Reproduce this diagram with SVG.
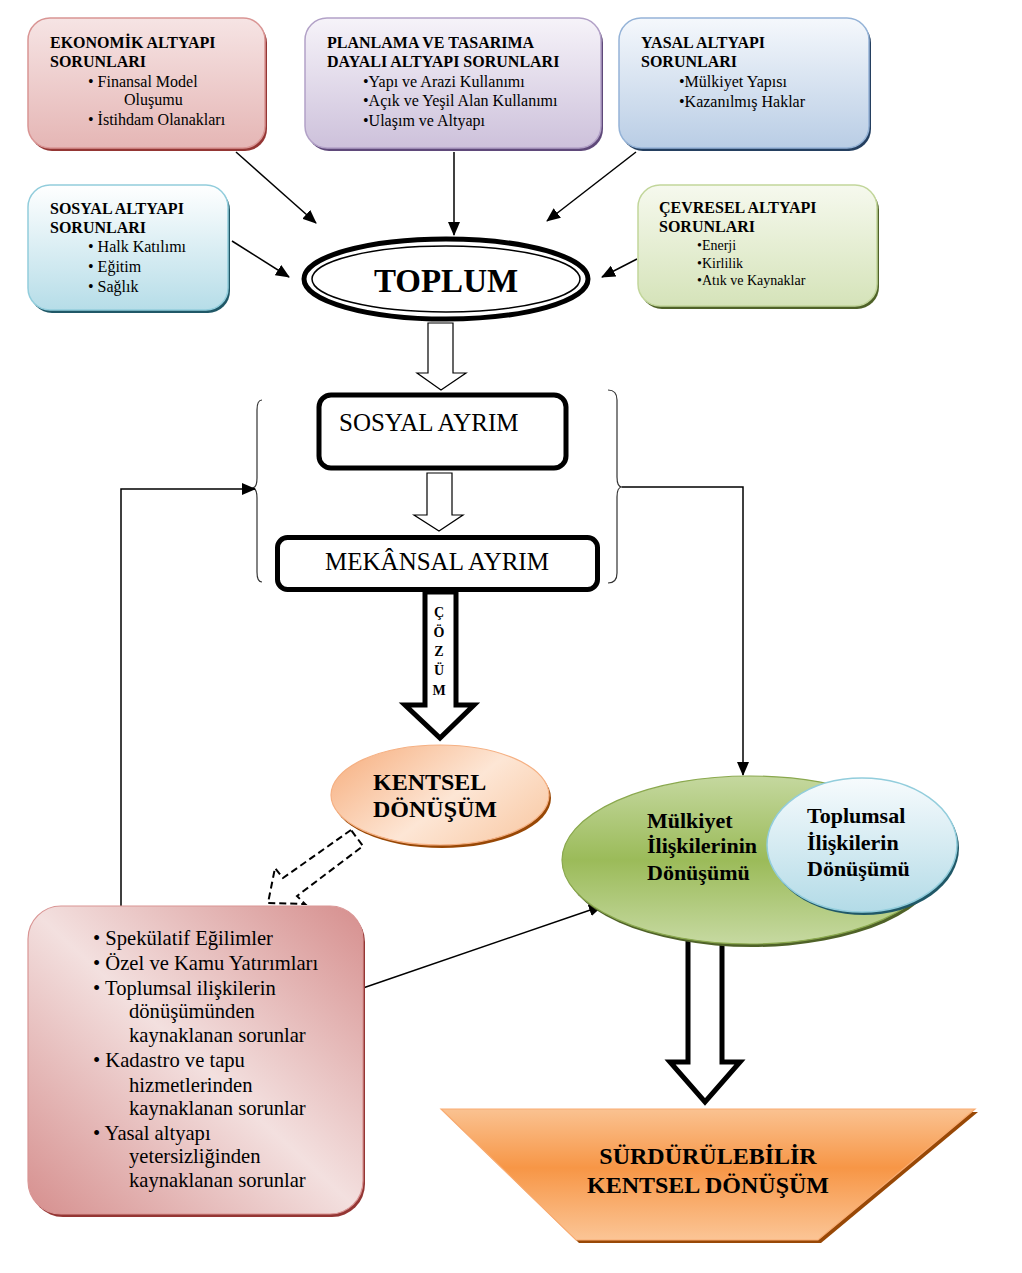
<svg xmlns="http://www.w3.org/2000/svg" width="1022" height="1273" viewBox="0 0 1022 1273">
<style>
text{font-family:"Liberation Serif","Times New Roman",serif;fill:#000}
.tt{font-size:16px;font-weight:bold}
.b16{font-size:16px}
.b14{font-size:14px}
.b20{font-size:20.6px}
.big{font-size:24px}
.ay{font-size:25px}
.bb{font-weight:bold}
.ln{stroke:#000;stroke-width:1.5;fill:none}
.blk{fill:#fff;stroke:#000}
</style>
<defs>
<marker id="ah" markerUnits="userSpaceOnUse" markerWidth="14" markerHeight="12" viewBox="0 0 14 12" refX="13" refY="6" orient="auto">
<path d="M0,0 L14,6 L0,12 z" fill="#000"/>
</marker>
<linearGradient id="gEk" x1="0" y1="0" x2="0" y2="1"><stop offset="0" stop-color="#f6e4e4"/><stop offset="1" stop-color="#e5b6b5"/></linearGradient>
<linearGradient id="gPl" x1="0" y1="0" x2="0" y2="1"><stop offset="0" stop-color="#f6f3f9"/><stop offset="1" stop-color="#cdc1db"/></linearGradient>
<linearGradient id="gYa" x1="0" y1="0" x2="0" y2="1"><stop offset="0" stop-color="#f5f8fc"/><stop offset="1" stop-color="#b9cde5"/></linearGradient>
<linearGradient id="gSo" x1="0" y1="0" x2="0" y2="1"><stop offset="0" stop-color="#ffffff"/><stop offset="1" stop-color="#b6dde8"/></linearGradient>
<linearGradient id="gCe" x1="0" y1="0" x2="0" y2="1"><stop offset="0" stop-color="#f6f9ee"/><stop offset="1" stop-color="#d5e3b9"/></linearGradient>
<linearGradient id="gBox" x1="1" y1="0" x2="0" y2="1"><stop offset="0" stop-color="#d68f8e"/><stop offset="0.5" stop-color="#f3e0df"/><stop offset="1" stop-color="#d68f8e"/></linearGradient>
<linearGradient id="gKe" x1="0" y1="0.2" x2="1" y2="0.8"><stop offset="0" stop-color="#f7b487"/><stop offset="0.55" stop-color="#fde6d5"/><stop offset="1" stop-color="#f9cba8"/></linearGradient>
<linearGradient id="gGr" x1="0" y1="0" x2="0" y2="1"><stop offset="0" stop-color="#c5d89f"/><stop offset="0.5" stop-color="#9bbb59"/><stop offset="1" stop-color="#c6d9a1"/></linearGradient>
<linearGradient id="gBl" x1="0" y1="0" x2="0" y2="1"><stop offset="0" stop-color="#f7fbfd"/><stop offset="1" stop-color="#b3dbe7"/></linearGradient>
<linearGradient id="gTr" x1="0" y1="0" x2="0" y2="1"><stop offset="0" stop-color="#fac291"/><stop offset="0.45" stop-color="#f79646"/><stop offset="1" stop-color="#fbc596"/></linearGradient>
</defs>
<rect width="1022" height="1273" fill="#fff"/>

<g id="connectors">
<line class="ln" x1="236" y1="152" x2="316" y2="223" marker-end="url(#ah)"/>
<line class="ln" x1="454" y1="152" x2="454" y2="235" marker-end="url(#ah)"/>
<line class="ln" x1="636" y1="152" x2="547" y2="221" marker-end="url(#ah)"/>
<line class="ln" x1="232" y1="241" x2="289" y2="277" marker-end="url(#ah)"/>
<line class="ln" x1="637" y1="259" x2="602" y2="277" marker-end="url(#ah)"/>
<polygon class="blk" stroke-width="1.2" points="428,323 453,323 453,373 466,373 441,390 417,373 428,373"/>
<polygon class="blk" stroke-width="1.2" points="427,473 452,473 452,515 463,515 439,531 414,515 427,515"/>
<polygon class="blk" stroke-width="5" points="425,592 456,592 456,705 474,705 440,738 405,705 425,705"/>
<path d="M262,400 Q257,400 257,410 L257,478 Q257,488 252,488 Q257,488 257,498 L257,572 Q257,582 262,582" fill="none" stroke="#333" stroke-width="1.2"/>
<path d="M608,390 Q617,390 617,400 L617,477 Q617,487 622,487 Q617,487 617,497 L617,573 Q617,583 608,583" fill="none" stroke="#333" stroke-width="1.2"/>
<polyline class="ln" points="121,906 121,489 255,489" marker-end="url(#ah)"/>
<polyline class="ln" points="622,487 743,487 743,775" marker-end="url(#ah)"/>
<line class="ln" x1="363" y1="988" x2="602" y2="906" marker-end="url(#ah)"/>
<polygon class="blk" stroke-width="5" points="688,920 722,920 722,1062 740,1062 705,1102 670,1062 688,1062"/>
</g>

<g id="ekonomik">
<rect x="30" y="21" width="237" height="130" rx="22" fill="#943634"/>
<rect x="28" y="18" width="237" height="130" rx="22" fill="url(#gEk)" stroke="#d99594" stroke-width="1.5"/>
<text class="tt" x="50" y="48">EKONOMİK ALTYAPI</text>
<text class="tt" x="50" y="67">SORUNLARI</text>
<text class="b16" x="88" y="87">• Finansal Model</text>
<text class="b16" x="124" y="105">Oluşumu</text>
<text class="b16" x="88" y="125">• İstihdam Olanakları</text>
</g>

<g id="planlama">
<rect x="307" y="21" width="296" height="130" rx="22" fill="#5f497a"/>
<rect x="305" y="18" width="296" height="130" rx="22" fill="url(#gPl)" stroke="#b2a1c7" stroke-width="1.5"/>
<text class="tt" x="327" y="48">PLANLAMA VE TASARIMA</text>
<text class="tt" x="327" y="67">DAYALI ALTYAPI SORUNLARI</text>
<text class="b16" x="363" y="87">•Yapı ve Arazi Kullanımı</text>
<text class="b16" x="363" y="106">•Açık ve Yeşil Alan Kullanımı</text>
<text class="b16" x="363" y="126">•Ulaşım ve Altyapı</text>
</g>

<g id="yasal">
<rect x="621" y="21" width="250" height="130" rx="22" fill="#243f60"/>
<rect x="619" y="18" width="250" height="130" rx="22" fill="url(#gYa)" stroke="#95b3d7" stroke-width="1.5"/>
<text class="tt" x="641" y="48">YASAL ALTYAPI</text>
<text class="tt" x="641" y="67">SORUNLARI</text>
<text class="b16" x="679" y="87">•Mülkiyet Yapısı</text>
<text class="b16" x="679" y="107">•Kazanılmış Haklar</text>
</g>

<g id="sosyal">
<rect x="30" y="188" width="200" height="125" rx="22" fill="#205867"/>
<rect x="28" y="185" width="200" height="125" rx="22" fill="url(#gSo)" stroke="#92cddc" stroke-width="1.5"/>
<text class="tt" x="50" y="214">SOSYAL ALTYAPI</text>
<text class="tt" x="50" y="233">SORUNLARI</text>
<text class="b16" x="88" y="252">• Halk Katılımı</text>
<text class="b16" x="88" y="272">• Eğitim</text>
<text class="b16" x="88" y="292">• Sağlık</text>
</g>

<g id="cevresel">
<rect x="640" y="188" width="239" height="121" rx="22" fill="#4f6228"/>
<rect x="638" y="185" width="239" height="121" rx="22" fill="url(#gCe)" stroke="#c2d69b" stroke-width="1.5"/>
<text class="tt" x="659" y="213">ÇEVRESEL ALTYAPI</text>
<text class="tt" x="659" y="232">SORUNLARI</text>
<text class="b14" x="697" y="250">•Enerji</text>
<text class="b14" x="697" y="268">•Kirlilik</text>
<text class="b14" x="697" y="285">•Atık ve Kaynaklar</text>
</g>

<g id="toplum">
<ellipse cx="446" cy="279" rx="142" ry="40" fill="#fff" stroke="#000" stroke-width="5"/>
<ellipse cx="446" cy="279" rx="134" ry="33" fill="none" stroke="#000" stroke-width="1.5"/>
<text x="446" y="292" font-size="33" font-weight="bold" text-anchor="middle">TOPLUM</text>
</g>

<g id="sosyal-ayrim">
<rect x="319" y="395" width="247" height="73" rx="12" fill="#fff" stroke="#000" stroke-width="5"/>
<text class="ay" x="339" y="431">SOSYAL AYRIM</text>
</g>

<g id="mekansal-ayrim">
<rect x="277.5" y="537.5" width="320" height="52" rx="10" fill="#fff" stroke="#000" stroke-width="5"/>
<text class="ay" x="437" y="570" text-anchor="middle">MEKÂNSAL AYRIM</text>
</g>

<g id="cozum" font-size="14" font-weight="bold" text-anchor="middle">
<text x="439" y="617">Ç</text>
<text x="439" y="637">Ö</text>
<text x="439" y="656">Z</text>
<text x="439" y="675">Ü</text>
<text x="439" y="695">M</text>
</g>

<g id="kentsel-donusum">
<ellipse cx="442" cy="798" rx="109" ry="50" fill="#984806"/>
<ellipse cx="440" cy="795" rx="109" ry="50" fill="url(#gKe)" stroke="#f5b083" stroke-width="1.2"/>
<text class="big bb" x="373" y="790">KENTSEL</text>
<text class="big bb" x="373" y="817">DÖNÜŞÜM</text>
</g>

<g id="sorunlar">
<rect x="30" y="909" width="335" height="308" rx="33" fill="#943634"/>
<rect x="28" y="906" width="335" height="308" rx="33" fill="url(#gBox)" stroke="#d99594" stroke-width="1.2"/>
<text class="b20" x="93" y="945">• Spekülatif Eğilimler</text>
<text class="b20" x="93" y="970">• Özel ve Kamu Yatırımları</text>
<text class="b20" x="93" y="995">• Toplumsal ilişkilerin</text>
<text class="b20" x="129" y="1018">dönüşümünden</text>
<text class="b20" x="129" y="1042">kaynaklanan sorunlar</text>
<text class="b20" x="93" y="1067">• Kadastro ve tapu</text>
<text class="b20" x="129" y="1092">hizmetlerinden</text>
<text class="b20" x="129" y="1115">kaynaklanan sorunlar</text>
<text class="b20" x="93" y="1140">• Yasal altyapı</text>
<text class="b20" x="129" y="1163">yetersizliğinden</text>
<text class="b20" x="129" y="1187">kaynaklanan sorunlar</text>
</g>

<g id="dashed-arrow">
<polygon points="351,830 283,878 275,868 268,903 305,904 297,896 363,846" fill="none" stroke="#000" stroke-width="2" stroke-dasharray="7,4"/>
</g>

<g id="mulkiyet">
<ellipse cx="752" cy="863" rx="188" ry="84" fill="#4f6228"/>
<ellipse cx="750" cy="860" rx="188" ry="84" fill="url(#gGr)" stroke="#8aa84e" stroke-width="1.2"/>
<text x="647" y="828" font-size="22" font-weight="bold">Mülkiyet</text>
<text x="647" y="853" font-size="22" font-weight="bold">İlişkilerinin</text>
<text x="647" y="880" font-size="22" font-weight="bold">Dönüşümü</text>
</g>

<g id="toplumsal">
<ellipse cx="864" cy="848" rx="95" ry="67" fill="#205867"/>
<ellipse cx="862" cy="845" rx="95" ry="67" fill="url(#gBl)" stroke="#92cddc" stroke-width="1.5"/>
<text x="807" y="823" font-size="22" font-weight="bold">Toplumsal</text>
<text x="807" y="850" font-size="22" font-weight="bold">İlişkilerin</text>
<text x="807" y="876" font-size="22" font-weight="bold">Dönüşümü</text>
</g>

<g id="surdurulebilir">
<polygon points="444,1112 978,1112 821,1243 579,1243" fill="#984806"/>
<polygon points="441,1109 975,1109 818,1240 576,1240" fill="url(#gTr)" stroke="#f9ac72" stroke-width="1.2"/>
<text class="big bb" x="708" y="1164" text-anchor="middle">SÜRDÜRÜLEBİLİR</text>
<text class="big bb" x="708" y="1193" text-anchor="middle">KENTSEL DÖNÜŞÜM</text>
</g>
</svg>
